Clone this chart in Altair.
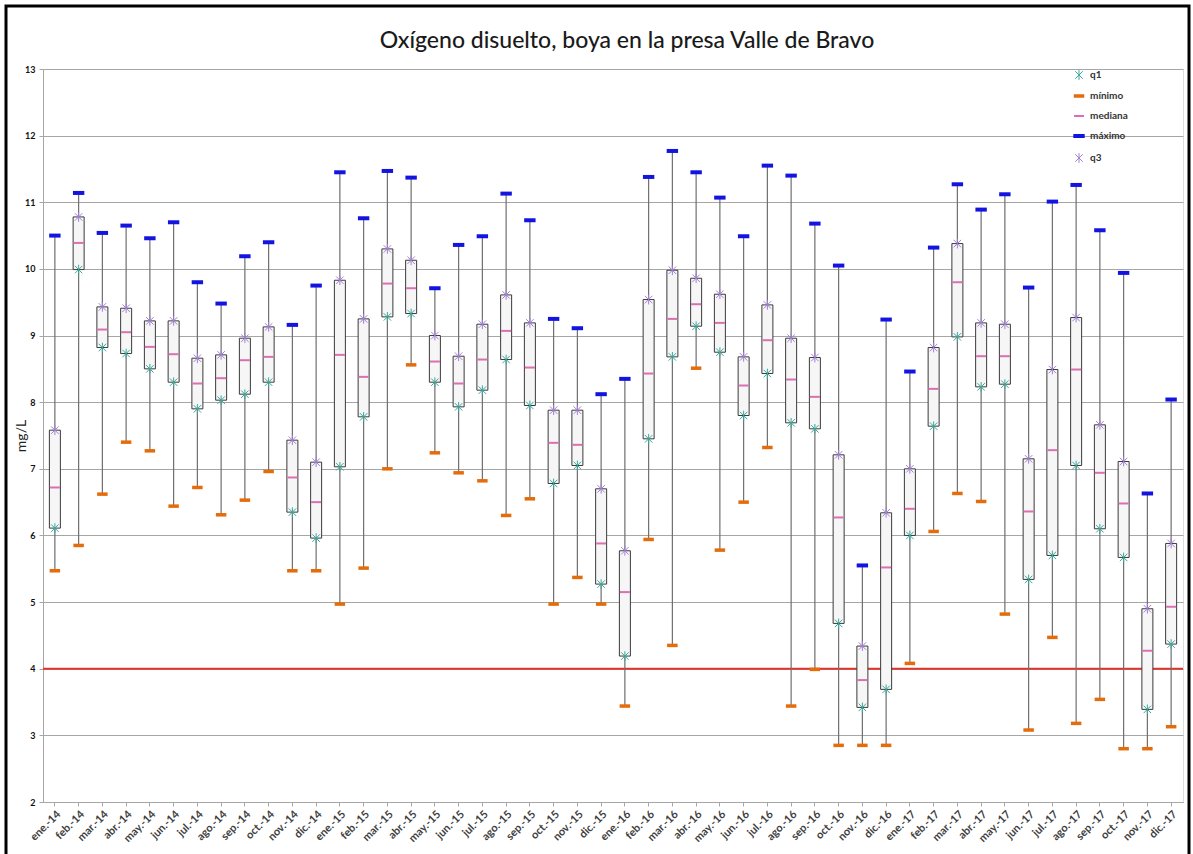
import altair as alt
import pandas as pd

titulo = "Oxígeno disuelto, boya en la presa Valle de Bravo"

meses = ["ene.-14", "feb.-14", "mar.-14", "abr.-14", "may.-14", "jun.-14",
         "jul.-14", "ago.-14", "sep.-14", "oct.-14", "nov.-14", "dic.-14",
         "ene.-15", "feb.-15", "mar.-15", "abr.-15", "may.-15", "jun.-15",
         "jul.-15", "ago.-15", "sep.-15", "oct.-15", "nov.-15", "dic.-15",
         "ene.-16", "feb.-16", "mar.-16", "abr.-16", "may.-16", "jun.-16",
         "jul.-16", "ago.-16", "sep.-16", "oct.-16", "nov.-16", "dic.-16",
         "ene.-17", "feb.-17", "mar.-17", "abr.-17", "may.-17", "jun.-17",
         "jul.-17", "ago.-17", "sep.-17", "oct.-17", "nov.-17", "dic.-17"]

maximo = [10.50, 11.14, 10.54, 10.65, 10.46, 10.70, 9.80, 9.48, 10.19, 10.40, 9.16, 9.75,
          11.45, 10.76, 11.47, 11.37, 9.71, 10.36, 10.49, 11.13, 10.73, 9.25, 9.11, 8.12,
          8.35, 11.38, 11.77, 11.45, 11.07, 10.49, 11.55, 11.40, 10.68, 10.05, 5.55, 9.24,
          8.46, 10.32, 11.27, 10.89, 11.12, 9.72, 11.01, 11.26, 10.58, 9.94, 6.63, 8.04]
q3 = [7.58, 10.78, 9.43, 9.41, 9.22, 9.22, 8.66, 8.71, 8.96, 9.13, 7.43, 7.10,
      9.83, 9.25, 10.30, 10.13, 9.00, 8.69, 9.17, 9.61, 9.19, 7.88, 7.88, 6.70,
      5.77, 9.54, 9.98, 9.86, 9.62, 8.68, 9.46, 8.96, 8.67, 7.21, 4.34, 6.34,
      7.00, 8.82, 10.38, 9.19, 9.17, 7.15, 8.49, 9.27, 7.66, 7.11, 4.90, 5.88]
mediana = [6.72, 10.39, 9.09, 9.05, 8.83, 8.72, 8.28, 8.36, 8.63, 8.68, 6.87, 6.50,
           8.71, 8.38, 9.78, 9.71, 8.61, 8.28, 8.64, 9.07, 8.52, 7.39, 7.36, 5.88,
           5.15, 8.43, 9.25, 9.47, 9.19, 8.25, 8.93, 8.34, 8.08, 6.27, 3.83, 5.52,
           6.40, 8.20, 9.80, 8.69, 8.69, 6.36, 7.28, 8.49, 6.94, 6.48, 4.27, 4.93]
q1 = [6.11, 9.99, 8.82, 8.73, 8.50, 8.30, 7.90, 8.03, 8.12, 8.30, 6.35, 5.96,
      7.03, 7.78, 9.28, 9.33, 8.30, 7.93, 8.18, 8.64, 7.95, 6.78, 7.05, 5.27,
      4.19, 7.45, 8.68, 9.14, 8.75, 7.80, 8.43, 7.69, 7.60, 4.68, 3.42, 3.69,
      6.00, 7.64, 8.98, 8.23, 8.27, 5.34, 5.70, 7.05, 6.10, 5.67, 3.39, 4.37]
minimo = [5.47, 5.85, 6.62, 7.40, 7.27, 6.44, 6.72, 6.31, 6.53, 6.96, 5.47, 5.47,
          4.97, 5.51, 7.00, 8.56, 7.24, 6.94, 6.82, 6.30, 6.55, 4.97, 5.37, 4.97,
          3.44, 5.94, 4.35, 8.51, 5.78, 6.50, 7.32, 3.44, 3.99, 2.85, 2.85, 2.85,
          4.08, 6.06, 6.63, 6.51, 4.82, 3.08, 4.47, 3.18, 3.54, 2.80, 2.80, 3.13]
limite = [4]

series = ["q1", "mínimo", "mediana", "máximo", "q3"]
colores = ["#3AA89C", "#E46C0A", "#DB6FB2", "#1414E0", "#A47FD8"]
asterisco = "M-1,-1L1,1M-1,1L1,-1M0,-1.3L0,1.3"
raya = "M-1,0L1,0"
formas = [asterisco, raya, raya, raya, asterisco]
tamanos = [56, 110, 100, 130, 56]
grosores = [1, 3.5, 2, 4, 1]

FONT = "Lato"

df = pd.DataFrame({"mes": meses, "mn": minimo, "q1": q1, "med": mediana, "q3": q3, "mx": maximo})
largo = pd.concat(
    [pd.DataFrame({"mes": meses, "serie": s, "valor": v})
     for s, v in zip(series, [q1, minimo, mediana, maximo, q3])],
    ignore_index=True,
)

yscale = alt.Scale(domain=[2, 13], nice=False, zero=False)
xenc = alt.X(
    "mes:N", sort=meses, title=None,
    scale=alt.Scale(paddingInner=0, paddingOuter=0),
    axis=alt.Axis(labelAngle=-45, labelFont=FONT, labelFontSize=11, labelFontWeight="bold",
                  labelColor="#404040", tickColor="#A6A6A6", tickSize=4,
                  domainColor="#A6A6A6", labelPadding=2, grid=False),
)
yaxis = alt.Axis(values=list(range(2, 14)), format="d", title="mg/L", titleFont=FONT,
                 titleFontSize=14, titleFontWeight="normal", titleColor="#222222",
                 titleX=-15,
                 labelFont=FONT, labelFontSize=9, labelFontWeight="bold", labelColor="#111111",
                 domainColor="#A6A6A6", tickColor="#A6A6A6", tickSize=4, labelPadding=4,
                 gridColor="#A6A6A6", gridWidth=1)

base = alt.Chart(df)

bigote = base.mark_rule(color="#6F6F6F", strokeWidth=1.2).encode(
    x=xenc, y=alt.Y("mn:Q", scale=yscale, axis=yaxis), y2="mx:Q")

caja = base.mark_bar(size=11, fill="#F6F6F6", stroke="#3A3A3A", strokeWidth=1).encode(
    x=xenc, y=alt.Y("q1:Q", scale=yscale), y2="q3:Q")

umbral = alt.Chart(pd.DataFrame({"y": limite})).mark_rule(color="#E2342B", strokeWidth=2).encode(
    y=alt.Y("y:Q", scale=yscale))

leyenda = alt.Legend(title=None, orient="none", legendX=1028, legendY=1,
                     labelFont=FONT, labelFontSize=10, labelFontWeight="bold",
                     labelColor="#333333", rowPadding=7, labelOffset=3)

puntos = alt.Chart(largo).mark_point(filled=False, opacity=1).encode(
    x=xenc,
    y=alt.Y("valor:Q", scale=yscale),
    color=alt.Color("serie:N", scale=alt.Scale(domain=series, range=colores), legend=leyenda),
    shape=alt.Shape("serie:N", scale=alt.Scale(domain=series, range=formas), legend=leyenda),
    size=alt.Size("serie:N", scale=alt.Scale(type="ordinal", domain=series, range=tamanos),
                  legend=leyenda),
    strokeWidth=alt.StrokeWidth("serie:N", scale=alt.Scale(type="ordinal", domain=series,
                                                           range=grosores), legend=leyenda),
)

marco = alt.Chart(pd.DataFrame({"k": [0]})).mark_rect(
    fillOpacity=0, stroke="#000000", strokeWidth=3).encode(
    x=alt.value(-37), x2=alt.value(1146), y=alt.value(-63), y2=alt.value(800))

encabezado = alt.Chart(pd.DataFrame({"t": [titulo]})).mark_text(
    font=FONT, fontSize=23, fontWeight=500, color="#1A1A1A", align="center",
    baseline="alphabetic").encode(
    text="t:N", x=alt.value(584), y=alt.value(-21))

chart = alt.layer(umbral, bigote, caja, puntos, marco, encabezado).properties(
    width=1140, height=733,
    autosize=alt.AutoSizeParams(type="none"),
    padding={"left": 43, "top": 69, "right": 10, "bottom": 52},
).configure_view(stroke="#A6A6A6").configure(background="white")

chart.save("out.html", embed_options={"renderer": "svg", "actions": False})
